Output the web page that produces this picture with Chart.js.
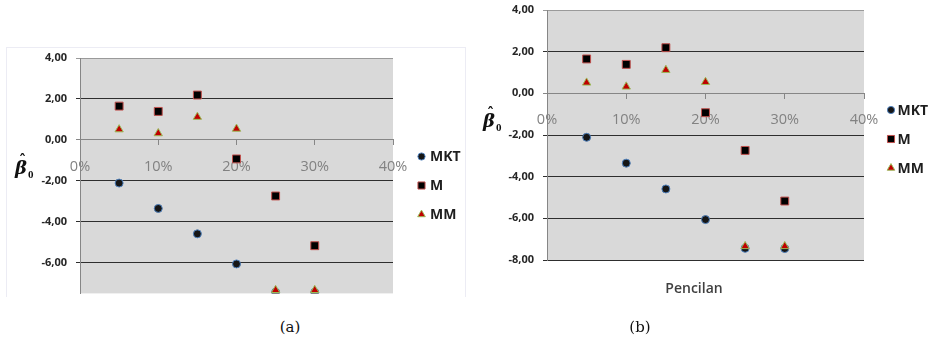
<!DOCTYPE html>
<html>
<head>
<meta charset="utf-8">
<script src="https://cdn.jsdelivr.net/npm/chart.js@4.4.1/dist/chart.umd.min.js"></script>
<style>
  html, body { margin: 0; padding: 0; background: #ffffff; }
  body { width: 928px; height: 342px; position: relative; overflow: hidden; }
  canvas { position: absolute; }
  .panel { position: absolute; border: 1px solid #ececf4; border-bottom: none; }
  .bb { position: absolute; font: bold italic 18px "DejaVu Serif", serif; line-height: 18px; color: #111; }
  .bh { position: absolute; font: bold 14px "DejaVu Serif", serif; line-height: 14px; color: #111; }
  .bs { position: absolute; font: bold 11px "Liberation Serif", serif; line-height: 11px; color: #111; }
  .cap { position: absolute; font: 15px "DejaVu Serif", "Liberation Serif", serif; color: #111; transform: translate(-50%, -50%); white-space: nowrap; }
  .xtitle { position: absolute; font: 600 14px "Open Sans", sans-serif; color: #404040; transform: translate(-50%, -50%); white-space: nowrap; }
</style>
</head>
<body>
<div class="panel" style="left:6px; top:47px; width:458px; height:249px;"></div>
<canvas id="chartA" width="464" height="260" style="left:0px; top:40px;"></canvas>
<canvas id="chartB" width="438" height="300" style="left:490px; top:0px;"></canvas>

<span class="bb" style="left:15px; top:159px;">β</span>
<span class="bh" style="left:19px; top:153px;">ˆ</span>
<span class="bs" style="left:28px; top:169px;">0</span>

<span class="bb" style="left:483px; top:112px;">β</span>
<span class="bh" style="left:487px; top:106px;">ˆ</span>
<span class="bs" style="left:496px; top:122px;">0</span>

<div class="xtitle" style="left:694px; top:287px;">Pencilan</div>
<div class="cap" style="left:290px; top:327px;">(a)</div>
<div class="cap" style="left:640px; top:327px;">(b)</div>

<script>
// ---- data ----
const categories = [0.05, 0.10, 0.15, 0.20, 0.25, 0.30];
const seriesNames = ['MKT', 'M', 'MM'];
const mktValues = [-2.11, -3.35, -4.59, -6.06, -7.44, -7.45];
const mValues   = [1.65, 1.39, 2.19, -0.93, -2.74, -5.17];
const mmValues  = [0.51, 0.32, 1.12, 0.54, -7.34, -7.34];
const xTickValues  = [0, 0.1, 0.2, 0.3, 0.4];
const yTickValuesA = [4, 2, 0, -2, -4, -6];
const yTickValuesB = [4, 2, 0, -2, -4, -6, -8];

function toPoints(vals) {
  return categories.map((c, i) => ({ x: c, y: vals[i] }));
}

function makeDatasets() {
  return [
    { label: seriesNames[0], data: toPoints(mktValues), pointStyle: 'circle', pointRadius: 4,
      backgroundColor: '#161616', borderColor: '#4f81bd', borderWidth: 1, order: 3 },
    { label: seriesNames[1], data: toPoints(mValues), pointStyle: 'rect', pointRadius: 5.6,
      backgroundColor: '#000000', borderColor: '#c0504d', borderWidth: 1, order: 2 },
    { label: seriesNames[2], data: toPoints(mmValues), pointStyle: 'triangle', pointRadius: 4.8,
      backgroundColor: '#c00000', borderColor: '#9bbb59', borderWidth: 1, order: 1 }
  ];
}

const plotBg = {
  id: 'plotBg',
  beforeDraw(chart) {
    const a = chart.chartArea, ctx = chart.ctx;
    ctx.save();
    ctx.fillStyle = '#d9d9d9';
    ctx.fillRect(a.left, a.top, a.right - a.left, a.bottom - a.top);
    ctx.restore();
  }
};

const sideLegend = {
  id: 'sideLegend',
  afterDraw(chart, args, opts) {
    const ctx = chart.ctx;
    ctx.save();
    chart.data.datasets.forEach((ds, i) => {
      const y = opts.y0 + i * opts.dy;
      ctx.fillStyle = ds.backgroundColor;
      ctx.strokeStyle = ds.borderColor;
      ctx.lineWidth = 1;
      const r = ds.pointStyle === 'rect' ? 5 : (ds.pointStyle === 'triangle' ? 4.4 : 3.6);
      Chart.helpers.drawPoint(ctx, { pointStyle: ds.pointStyle, radius: r, rotation: 0, borderWidth: 1 }, opts.x, y);
      ctx.fillStyle = '#1e1e1e';
      ctx.font = 'bold 14px "Open Sans", sans-serif';
      ctx.textAlign = 'left';
      ctx.textBaseline = 'middle';
      ctx.fillText(ds.label, opts.x + opts.gap, y + 1);
    });
    ctx.restore();
  }
};

function gridColor(c) {
  const v = c.tick ? c.tick.value : null;
  if (v === 0) return '#868686';
  if (v === 4) return '#9a9a9a';
  return '#2e2e2e';
}

function makeOptions(cfg) {
  return {
    responsive: false,
    animation: false,
    devicePixelRatio: 1,
    layout: { padding: cfg.padding },
    plugins: {
      legend: { display: false },
      tooltip: { enabled: false },
      sideLegend: cfg.legend
    },
    scales: {
      x: {
        type: 'linear',
        min: 0, max: 0.4,
        position: { y: 0 },
        grid: { display: true, drawOnChartArea: false, drawTicks: true, tickLength: 5, color: '#868686' },
        border: { display: true, color: '#868686', width: 1 },
        afterBuildTicks: s => { s.ticks = xTickValues.map(v => ({ value: v })); },
        ticks: {
          autoSkip: false, maxRotation: 0, padding: 13,
          color: '#828282',
          font: { family: 'Open Sans', size: 14.5 },
          callback: v => Math.round(v * 100) + '%'
        }
      },
      y: {
        type: 'linear',
        min: cfg.ymin, max: 4,
        position: 'left',
        afterFit: s => { s.width = cfg.yWidth; s.paddingTop = 0; s.paddingBottom = 0; },
        afterBuildTicks: s => { s.ticks = cfg.yTicks.map(v => ({ value: v })); },
        grid: { color: gridColor, lineWidth: 1, drawTicks: true, tickLength: 4 },
        border: { display: true, color: '#868686', width: 1 },
        ticks: {
          autoSkip: false, padding: 9,
          color: '#262626',
          font: { family: 'Open Sans', size: 11, weight: 'bold' },
          callback: v => v.toFixed(2).replace('.', ',')
        }
      }
    }
  };
}

new Chart(document.getElementById('chartA'), {
  type: 'scatter',
  data: { datasets: makeDatasets() },
  options: makeOptions({
    padding: { left: 0, right: 71, top: 18, bottom: 5 },
    ymin: -7.5, yWidth: 80, yTicks: yTickValuesA,
    legend: { x: 421.5, y0: 116.5, dy: 29, gap: 8.5 }
  }),
  plugins: [plotBg, sideLegend]
});

new Chart(document.getElementById('chartB'), {
  type: 'scatter',
  data: { datasets: makeDatasets() },
  options: makeOptions({
    padding: { left: 0, right: 64, top: 10, bottom: 40 },
    ymin: -8, yWidth: 57, yTicks: yTickValuesB,
    legend: { x: 401, y0: 110, dy: 29, gap: 6.5 }
  }),
  plugins: [plotBg, sideLegend]
});
</script>
</body>
</html>
